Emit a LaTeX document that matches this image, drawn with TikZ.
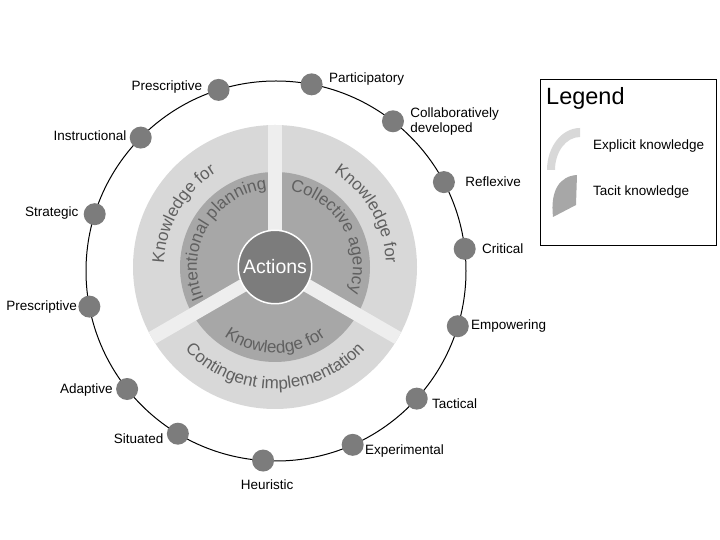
\documentclass[tikz,border=0pt]{standalone}
\usepackage{fontspec}
\setmainfont{Liberation Sans}
\usetikzlibrary{positioning,decorations.text}

\definecolor{explicitgray}{HTML}{D8D8D8}
\definecolor{tacitgray}{HTML}{A7A7A7}
\definecolor{gapgray}{HTML}{EEEEEE}
\definecolor{dotgray}{HTML}{7C7C7C}
\definecolor{ringgray}{HTML}{606060}

\newcommand{\ringfont}{\fontsize{17}{20}\selectfont}

\tikzset{
  dot/.style={circle, fill=dotgray, minimum size=22pt, inner sep=0pt},
  lbl/.style={font=\fontsize{13.5}{15.5}\selectfont, align=left, inner sep=1pt},
  ringlabel/.style={decorate, decoration={text along path, text align=center,
      text color=ringgray, text={|\ringfont|#1}}}
}

\begin{document}
\begin{tikzpicture}[x=1pt,y=1pt]
    \useasboundingbox (0,0) rectangle (720,540);
    \coordinate (oc) at (276,269); % outer circle
    \coordinate (w) at (275,273);  % wheel

    % Wheel: explicit ring, tacit disc, gaps
    \fill[explicitgray] (w) circle (142pt);
    \fill[tacitgray] (w) circle (95pt);
    \begin{scope}
      \clip (w) circle (142pt);
      \foreach \b in {90,210,330}
        \draw[gapgray, line width=13.5pt] (w) -- ++(\b:150pt);
    \end{scope}
    \node[circle, fill=dotgray, draw=white, line width=1.5pt, minimum size=73pt,
      text=white, font=\fontsize{19.5}{22}\selectfont] (act) at (w) {Actions};

    % Text on the sectors
    \path[ringlabel={Knowledge for}] ([shift={(250:111pt)}]w) arc[start angle=250, end angle=50, radius=111pt];
    \path[ringlabel={Intentional planning}] ([shift={(250:78pt)}]w) arc[start angle=250, end angle=50, radius=78pt];
    \path[ringlabel={Knowledge for}] ([shift={(130:111pt)}]w) arc[start angle=130, end angle=-70, radius=111pt];
    \path[ringlabel={Collective agency}] ([shift={(130:78pt)}]w) arc[start angle=130, end angle=-70, radius=78pt];
    \path[ringlabel={Knowledge for}] ([shift={(170:86pt)}]w) arc[start angle=170, end angle=370, radius=86pt];
    \path[ringlabel={Contingent implementation}] ([shift={(170:122pt)}]w) arc[start angle=170, end angle=370, radius=122pt];

    % Outer circle with dots
    \draw[line width=1pt] (oc) circle (190pt);
    \foreach \a/\txt/\pos/\dx/\dy [count=\i] in {
        107.6/Prescriptive/left/-4/3, 79.2/Participatory/right/5/5,
        52/{Collaboratively\\developed}/right/5/0, 27.9/Reflexive/right/9/0,
        6.7/Critical/right/5/0, -16.9/Empowering/right/1/0,
        -42.2/Tactical/right/3/-5, -66.2/Experimental/right/0/-6,
        -93.9/Heuristic/below/4/-7, 238.9/Situated/left/-2/-5,
        218.4/Adaptive/left/-2/-1, 190.8/Prescriptive/left/0/0,
        162.6/Strategic/left/-4/1, 135.4/Instructional/left/-2/2} {
      \node[dot, label={[lbl, xshift=\dx pt, yshift=\dy pt]\pos:\txt}] (d\i) at ([shift={(\a:190pt)}]oc) {};
    }

    % Legend
    \node[draw, line width=1pt, minimum width=176pt, minimum height=166pt, anchor=north west] (legend) at (540,461) {};
    \node[anchor=west, inner sep=0pt, font=\fontsize{23.5}{26}\selectfont] (legtitle) at (546,442) {Legend};
    \fill[explicitgray] (547,370) arc[start angle=180, end angle=90, x radius=33pt, y radius=42pt]
      -- ++(0,-9) arc[start angle=90, end angle=180, x radius=25pt, y radius=33pt] -- cycle;
    \fill[tacitgray] (553,323) .. controls (550,350) and (560,364) .. (577,365) -- (576,335) -- cycle;
    \node[lbl, anchor=west, inner sep=0pt] (explicitlbl) at (593,394) {Explicit knowledge};
    \node[lbl, anchor=west, inner sep=0pt] (tacitlbl) at (593,348) {Tacit knowledge};
\end{tikzpicture}
\end{document}
